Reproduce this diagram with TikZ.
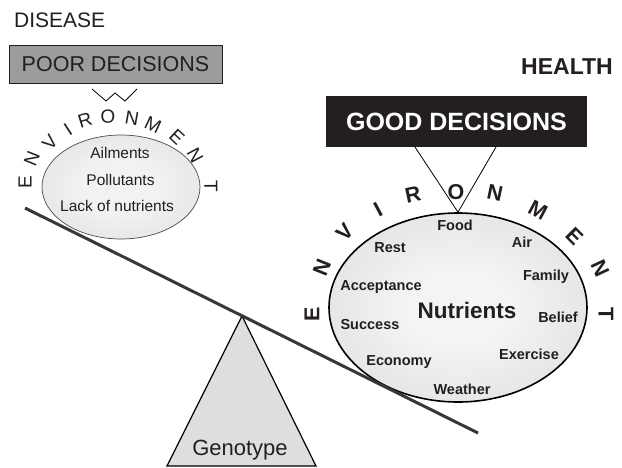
\documentclass[tikz,border=0pt]{standalone}
\usepackage{fontspec}
\setmainfont{Liberation Sans}
\usetikzlibrary{calc,shapes.geometric,backgrounds}

\definecolor{ink}{HTML}{231F20}
\definecolor{boxgray}{HTML}{9C9C9C}
\definecolor{beamcol}{HTML}{383838}
\definecolor{wedgefill}{HTML}{DEDEDE}
\definecolor{bowlA}{HTML}{F4F4F4}
\definecolor{bowlB}{HTML}{DCDCDC}
\definecolor{bowlC}{HTML}{CFCFCF}
\definecolor{bowlD}{HTML}{B8B8B8}
\definecolor{lbowlA}{HTML}{F2F2F2}
\definecolor{lbowlB}{HTML}{DEDEDE}
\definecolor{lbowlC}{HTML}{C9C9C9}

% soft radial fill for the two environment bowls
\pgfdeclareradialshading{bowlright}{\pgfpoint{0bp}{0bp}}{%
  color(0bp)=(bowlA); color(10bp)=(bowlA); color(36bp)=(bowlB);
  color(43bp)=(bowlC); color(45.5bp)=(bowlD); color(50bp)=(bowlD)}
\pgfdeclareradialshading{bowlleft}{\pgfpoint{0bp}{0bp}}{%
  color(0bp)=(lbowlA); color(12bp)=(lbowlA); color(38bp)=(lbowlB);
  color(46bp)=(lbowlC); color(50bp)=(lbowlC)}

\newcommand\softshadow[1]{%
  \begin{scope}[on background layer]
    \foreach \k in {1,...,6}{%
      \fill[black,opacity=0.05]
        ($(#1.south west)+(3-\k*0.8,3+\k*0.8)$) rectangle
        ($(#1.north east)+(3+\k*0.8,3-\k*0.8)$);}
  \end{scope}}

\tikzset{
  plain/.style={font=\fontsize{#1}{#1}\selectfont, text=ink, inner sep=0pt},
  heavy/.style={font=\bfseries\fontsize{#1}{#1}\selectfont, text=ink, inner sep=0pt},
  decbox/.style={minimum width=#1, minimum height=38pt, inner sep=0pt},
  thinline/.style={draw=black, line width=0.8pt},
}

\begin{document}
\begin{tikzpicture}[x=1pt,y=-1pt]
\useasboundingbox[fill=white] (0,0) rectangle (622,467);

% headings
\node[plain=21, anchor=base west] (disease) at (14,27) {DISEASE};
\node[heavy=23, anchor=base east] (health) at (613,74) {HEALTH};

% decision boxes
\node[decbox=213pt, fill=boxgray, draw=ink, line width=0.8pt,
      plain=21.5] (poor) at (115.5,64) {POOR DECISIONS};
\softshadow{poor}
\node[decbox=261pt, minimum height=51pt, fill=ink,
      font=\bfseries\fontsize{25}{25}\selectfont, text=white] (good) at (456.5,121.5) {GOOD DECISIONS};
\softshadow{good}

% left bowl
\node[ellipse, draw=black!70, line width=0.7pt, shading=bowlleft,
      minimum width=158pt, minimum height=104pt, inner sep=0pt] (lbowl) at (121,187) {};
\node[plain=15.5] (ailments) at (120,153) {Ailments};
\node[plain=15.5] (pollutants) at (120.5,180) {Pollutants};
\node[plain=15.5] (lack) at (117,206) {Lack of nutrients};

% zigzag under the poor decisions box
\coordinate (zz) at (92,89);
\draw[thinline] (zz) -- ++(14,12) -- ++(9,-8) -- ++(10,8) -- ++(12,-12);

% ENVIRONMENT around the left bowl
\foreach \x/\y/\r/\t [count=\i] in {25/182/90/E, 32/159/68/N, 50/142/50/V, 68/130/33/I,
    85/120/17/R, 108/117/3/O, 132/118/-10/N, 153/125/-25/M, 177/137/-43/E,
    195/155/-62/N, 211/186/-90/T}
  \node[plain=19, rotate=\r] (lenv\i) at (\x,\y) {\t};

% right bowl
\node[ellipse, draw=black, line width=1.6pt, shading=bowlright,
      minimum width=258pt, minimum height=189pt, inner sep=0pt] (rbowl) at (458,307.5) {};

% connector from good decisions to the right bowl
\coordinate (gl) at (415,147);
\coordinate (gr) at (496,147);
\draw[thinline] (gl) -- (rbowl.north) -- (gr);

\foreach \x/\y/\t [count=\i] in {455/225/Food, 522/242/Air, 390/248/Rest, 546/277/Family,
    381/287/Acceptance, 558/317/Belief, 370/325/Success, 529/354/Exercise,
    399/362/Economy, 462/389/Weather}
  \node[heavy=14.5] (item\i) at (\x,\y) {\t};
\node[heavy=22.5] (nutrients) at (467,310) {Nutrients};

% ENVIRONMENT around the right bowl
\foreach \x/\y/\r/\t [count=\i] in {312/314/90/E, 322/268/68/N, 345/232/47/V, 378/210/28/I,
    413/195/12/R, 456/192/0/O, 495/193/-12/N, 538/210/-28/M, 575/236/-45/E,
    600/268/-65/N, 606/314/-90/T}
  \node[heavy=21.5, rotate=\r] (renv\i) at (\x,\y) {\t};

% fulcrum
\coordinate (apex) at (242,316);
\coordinate (baseL) at (167,466);
\coordinate (baseR) at (316,466);
\filldraw[fill=wedgefill, draw=black, line width=1.2pt, line join=miter] (apex) -- (baseL) -- (baseR) -- cycle;
\node[plain=22, anchor=base] (genotype) at (240,455) {Genotype};

% the balance beam
\coordinate (beamL) at (25,208);
\coordinate (beamR) at (478,433);
\draw[beamcol, line width=3pt] (beamL) -- (beamR);
\end{tikzpicture}
\end{document}
